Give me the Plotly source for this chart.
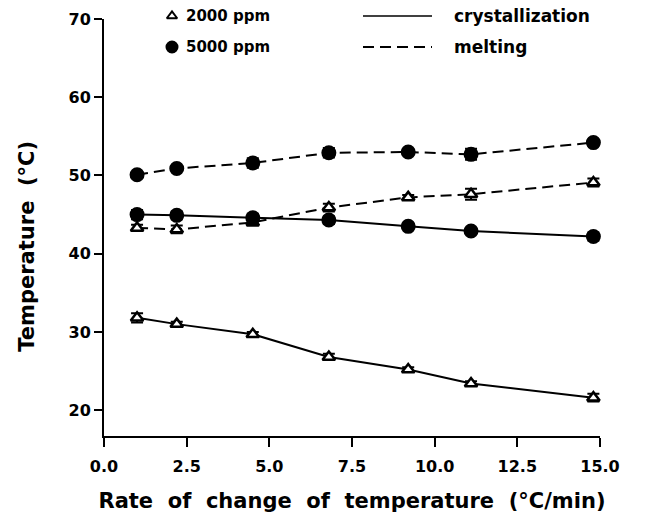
import plotly.graph_objects as go

# Heating/cooling rate (°C/min)
rate = [1.0, 2.2, 4.5, 6.8, 9.2, 11.1, 14.8]

# Peak temperatures (°C)
cryst_2000 = [31.8, 31.0, 29.7, 26.8, 25.2, 23.4, 21.6]
melt_2000 = [43.3, 43.1, 44.0, 45.9, 47.2, 47.6, 49.1]
cryst_5000 = [45.0, 44.9, 44.6, 44.3, 43.5, 42.9, 42.2]
melt_5000 = [50.1, 50.9, 51.6, 52.9, 53.0, 52.7, 54.2]

# Standard deviations
err_cryst_2000 = [0.6, 0.3, 0.3, 0.4, 0.3, 0.3, 0.5]
err_melt_2000 = [0.4, 0.5, 0.4, 0.5, 0.3, 0.7, 0.5]
err_cryst_5000 = [0.6, 0.5, 0.5, 0.5, 0.2, 0.2, 0.5]
err_melt_5000 = [0.3, 0.2, 0.6, 0.6, 0.3, 0.7, 0.4]

x_ticks = [0.0, 2.5, 5.0, 7.5, 10.0, 12.5, 15.0]
x_tick_labels = ["0.0", "2.5", "5.0", "7.5", "10.0", "12.5", "15.0"]
y_ticks = [20, 30, 40, 50, 60, 70]

BLACK = "black"
FONT = "DejaVu Sans"
DASH = "11px,6px"

W, H = 664, 525
M_L, M_R, M_B = 104, 64, 89
PLOT_TOP = 19                      # pixel row of the 70 °C tick
AREA_H = H - M_B                   # drawing area height (top margin = 0)


def series(y, err, filled, dash):
    return go.Scatter(
        x=rate, y=y, mode="lines+markers",
        line=dict(color=BLACK, width=2, dash=dash),
        marker=dict(symbol="circle" if filled else "triangle-up",
                    size=13 if filled else 11,
                    color=BLACK if filled else "white",
                    line=dict(color=BLACK, width=2 if filled else 2.5)),
        error_y=dict(type="data", array=err, symmetric=True,
                     color=BLACK, thickness=2, width=6),
        showlegend=False, cliponaxis=False,
    )


fig = go.Figure()
fig.add_trace(series(melt_5000, err_melt_5000, True, DASH))
fig.add_trace(series(melt_2000, err_melt_2000, False, DASH))
fig.add_trace(series(cryst_5000, err_cryst_5000, True, "solid"))
fig.add_trace(series(cryst_2000, err_cryst_2000, False, "solid"))

# Key, laid out on a hidden pixel-coordinate subplot (x2/y2)
ROW1, ROW2 = 16, 47
SYM_X, TXT1_X = 172, 184
LINE_X0, LINE_X1, TXT2_X = 363, 432, 452


def key_symbol(ky, symbol, size, fill):
    return go.Scatter(
        x=[SYM_X], y=[ky], mode="markers",
        marker=dict(symbol=symbol, size=size, color=fill,
                    line=dict(color=BLACK, width=2)),
        xaxis="x2", yaxis="y2", showlegend=False, cliponaxis=False,
        hoverinfo="skip",
    )


fig.add_trace(key_symbol(ROW1, "triangle-up", 9, "white"))
fig.add_trace(key_symbol(ROW2, "circle", 11, BLACK))

fig.add_shape(type="line", xref="x2", yref="y2",
              x0=LINE_X0, x1=LINE_X1, y0=ROW1, y1=ROW1,
              line=dict(color=BLACK, width=1.5))
fig.add_shape(type="line", xref="x2", yref="y2",
              x0=LINE_X0, x1=LINE_X1, y0=ROW2, y1=ROW2,
              line=dict(color=BLACK, width=2, dash=DASH))

key_texts = [
    (TXT1_X, ROW1, "2000 ppm", 15),
    (TXT1_X, ROW2, "5000 ppm", 15),
    (TXT2_X, ROW1, "crystallization", 17),
    (TXT2_X, ROW2, "melting", 17),
]
for kx, ky, txt, fs in key_texts:
    fig.add_annotation(x=kx, y=ky, xref="x2", yref="y2", text=txt,
                       showarrow=False, xanchor="left", yanchor="middle",
                       font=dict(family=FONT, size=fs, color=BLACK, weight="bold"))

# Y-axis title
fig.add_annotation(x=(27 - M_L) / (W - M_L - M_R), y=40.9, xref="paper", yref="y",
                   text="Temperature  (°C)", textangle=-90, showarrow=False,
                   xanchor="center", yanchor="middle",
                   font=dict(family=FONT, size=21, color=BLACK, weight="bold"))

axis_common = dict(
    showline=True, linecolor=BLACK, linewidth=2, ticks="outside",
    tickwidth=2, tickcolor=BLACK, showgrid=False, zeroline=False,
    tickfont=dict(family=FONT, size=16, color=BLACK, weight="bold"),
)

fig.update_layout(
    width=W, height=H,
    margin=dict(l=M_L, r=M_R, t=0, b=M_B, autoexpand=False),
    paper_bgcolor="white", plot_bgcolor="rgba(0,0,0,0)",
    xaxis=dict(range=[0, 15], tickvals=x_ticks, ticktext=x_tick_labels,
               ticklen=9, ticklabelstandoff=6, automargin=False,
               title=dict(text="Rate  of  change  of  temperature  (°C/min)",
                          font=dict(family=FONT, size=21, color=BLACK, weight="bold"),
                          standoff=18),
               **axis_common),
    yaxis=dict(range=[16.7, 70], tickvals=y_ticks, ticklen=8, automargin=False,
               domain=[0, (AREA_H - PLOT_TOP) / AREA_H],
               **axis_common),
    xaxis2=dict(domain=[0, 1], range=[M_L, W - M_R], anchor="y2",
                visible=False, fixedrange=True),
    yaxis2=dict(domain=[0, 1], range=[AREA_H, 0], anchor="x2",
                visible=False, fixedrange=True),
)

fig.write_html("out.html")
